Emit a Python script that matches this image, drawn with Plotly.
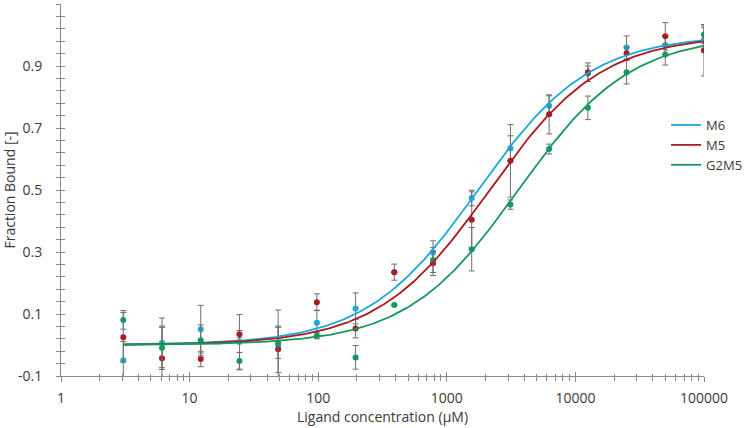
import numpy as np
import plotly.graph_objects as go

# ---- data ----
conc = [3.0518, 6.1035, 12.207, 24.414, 48.828, 97.656, 195.31, 390.63,
        781.25, 1562.5, 3125, 6250, 12500, 25000, 50000, 100000]

m6 = [-0.049, 0.007, 0.051, 0.010, -0.002, 0.072, 0.118, 0.235,
      0.298, 0.474, 0.635, 0.772, 0.875, 0.960, 0.967, 0.985]
m6_err = [0.06, 0.08, 0.077, 0.088, 0.115, 0.04, 0.05, 0.0,
          0.038, 0.025, 0.04, 0.032, 0.025, 0.037, 0.03, 0.04]

m5 = [0.025, -0.043, -0.045, 0.035, -0.014, 0.138, 0.053, 0.235,
      0.264, 0.404, 0.594, 0.744, 0.880, 0.941, 0.996, 0.951]
m5_err = [0.08, 0.10, 0.025, 0.012, 0.075, 0.027, 0.03, 0.026,
          0.04, 0.09, 0.117, 0.063, 0.03, 0.02, 0.044, 0.083]

g2m5 = [0.081, -0.009, 0.015, -0.052, 0.007, 0.030, -0.040, 0.129,
        0.274, 0.309, 0.453, 0.632, 0.765, 0.880, 0.937, 1.002]
g2m5_err = [0.03, 0.07, 0.05, 0.028, 0.05, 0.01, 0.038, 0.0,
            0.04, 0.07, 0.015, 0.016, 0.038, 0.038, 0.034, 0.03]

# fitted binding model parameters (Kd in µM)
fit_kd = {"M6": 1750, "M5": 2150, "G2M5": 3600}
fit_bottom = 0.0
fit_top = 1.0
fit_hill = 1.0

x_tick_vals = [1, 10, 100, 1000, 10000, 100000]
x_tick_text = ["1", "10", "100", "1000", "10000", "100000"]
y_tick_vals = [-0.1, 0.1, 0.3, 0.5, 0.7, 0.9]
y_tick_text = ["-0.1", "0.1", "0.3", "0.5", "0.7", "0.9"]

colors = {"M6": "#1ba8d9", "M5": "#a81c22", "G2M5": "#16985c"}
series = [("M6", m6, m6_err), ("M5", m5, m5_err), ("G2M5", g2m5, g2m5_err)]

FONT = "Open Sans, Segoe UI, Liberation Sans, sans-serif"
AXC = "#8a8a8a"
TXT = "#3a3a3a"

fig = go.Figure()

xfit = np.logspace(np.log10(conc[0]), np.log10(conc[-1]), 300)

for name, ys, es in series:
    fig.add_trace(go.Scatter(
        x=conc, y=ys, mode="markers",
        marker=dict(color=colors[name], size=6),
        error_y=dict(type="data", array=es, color="#6e6e6e", thickness=1, width=3),
        showlegend=False, hoverinfo="skip"))

for name, ys, es in series:
    kd = fit_kd[name]
    yfit = fit_bottom + (fit_top - fit_bottom) * xfit**fit_hill / (kd**fit_hill + xfit**fit_hill)
    fig.add_trace(go.Scatter(
        x=xfit, y=yfit, mode="lines", name=name,
        line=dict(color=colors[name], width=1.8)))

# invisible trace for the overlay axes (inner halves of crossing ticks)
fig.add_trace(go.Scatter(x=[1], y=[0], xaxis="x2", yaxis="y2", mode="markers",
                         marker=dict(opacity=0), showlegend=False, hoverinfo="skip"))

minor_x = [m * 10**k for k in range(0, 5) for m in range(2, 10)]

fig.update_layout(
    width=745, height=428,
    margin=dict(l=61, r=41, t=4, b=52, autoexpand=False),
    paper_bgcolor="white", plot_bgcolor="white",
    font=dict(family=FONT, size=13, color=TXT),
    xaxis=dict(type="log", range=[0, 5], showgrid=False, zeroline=False,
               automargin=False,
               showline=True, linecolor=AXC, linewidth=1,
               tickvals=x_tick_vals, ticktext=x_tick_text,
               ticks="outside", ticklen=5, tickcolor=AXC, tickwidth=1,
               ticklabelstandoff=4,
               minor=dict(tickvals=minor_x, ticks="outside", ticklen=4,
                          tickcolor=AXC, tickwidth=1),
               tickfont=dict(size=14, color=TXT),
               title=dict(text="Ligand concentration (µM)", standoff=1,
                          font=dict(size=14, color=TXT))),
    yaxis=dict(range=[-0.1, 1.1], showgrid=False, zeroline=False,
               automargin=False,
               showline=True, linecolor=AXC, linewidth=1,
               tickvals=y_tick_vals, ticktext=y_tick_text,
               ticks="outside", ticklen=4, tickcolor=AXC, tickwidth=1,
               ticklabelstandoff=11,
               minor=dict(tick0=-0.1, dtick=0.04, ticks="outside", ticklen=4,
                          tickcolor=AXC, tickwidth=1),
               tickfont=dict(size=14, color=TXT),
               title=dict(text="Fraction Bound [-]", standoff=0,
                          font=dict(size=14, color=TXT))),
    xaxis2=dict(type="log", range=[0, 5], overlaying="x", anchor="y2",
                automargin=False,
                showgrid=False, zeroline=False, showline=False,
                tickvals=x_tick_vals,
                ticks="inside", ticklen=4, tickcolor=AXC, tickwidth=1,
                minor=dict(tickvals=minor_x, ticks="inside", ticklen=2,
                           tickcolor=AXC, tickwidth=1),
                showticklabels=False),
    yaxis2=dict(range=[-0.1, 1.1], overlaying="y", anchor="x2",
                automargin=False,
                showgrid=False, zeroline=False, showline=False,
                tickvals=y_tick_vals,
                ticks="inside", ticklen=4, tickcolor=AXC, tickwidth=1,
                minor=dict(tick0=-0.1, dtick=0.04, ticks="inside", ticklen=4,
                           tickcolor=AXC, tickwidth=1),
                showticklabels=False),
    legend=dict(x=0.941, y=0.715, xanchor="left", yanchor="top",
                bgcolor="rgba(0,0,0,0)", font=dict(size=13, color=TXT),
                itemwidth=30, tracegroupgap=0),
)

fig.write_html("out.html", config={"displayModeBar": False},
               post_script="document.body.style.margin='0';")
